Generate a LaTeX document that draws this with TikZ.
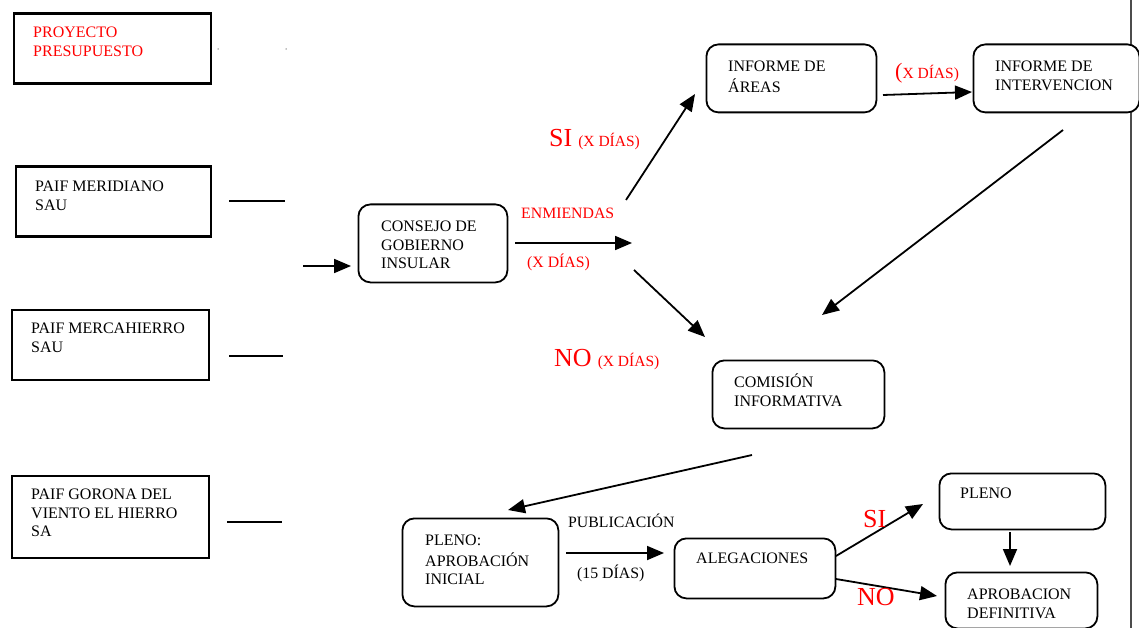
\documentclass[tikz,border=0pt]{standalone}
\usepackage{fontspec}
\setmainfont{Liberation Serif}
\usetikzlibrary{arrows.meta}
\definecolor{lblred}{RGB}{255,0,0}
\tikzset{
  sqbox/.style={draw=black, line width=2.2pt, fill=white},
  rbox/.style={draw=black, line width=1.8pt, rounded corners=12pt, fill=white},
  txt/.style={anchor=north west, inner sep=0pt, align=left, font=\fontsize{16}{18.6}\selectfont},
  lbl/.style={anchor=west, inner sep=0pt, font=\fontsize{15.8}{18.6}\selectfont},
  red lbl/.style={lbl, text=lblred},
  arr/.style={line width=1.8pt, -{Triangle[length=17pt,width=14pt]}},
  plain/.style={line width=1.6pt},
}
\newcommand{\bigf}{\fontsize{26}{30}\selectfont}
\newcommand{\smallf}{\fontsize{15.5}{17}\selectfont}
\begin{document}
\begin{tikzpicture}[x=1pt,y=-1pt]
\useasboundingbox (0,0) rectangle (1139,628);
% right margin line
\coordinate (vt) at (1131,0);
\coordinate (vb) at (1131,628);
\draw[line width=1.2pt, black!70] (vt) -- (vb);
% tiny dots
\node[circle, fill=black!50, inner sep=0pt, minimum size=1.5pt] (dotA) at (218,49) {};
\node[circle, fill=black!50, inner sep=0pt, minimum size=1.5pt] (dotB) at (286,49) {};

% left boxes
\node[sqbox, anchor=north west, minimum width=197pt, minimum height=70pt] (proy) at (12.5,12.5) {};
\node[txt, text=lblred] (proyT) at (33,24.5) {\strut PROYECTO\\PRESUPUESTO};
\node[sqbox, anchor=north west, minimum width=195pt, minimum height=70pt] (mer) at (14.5,165.5) {};
\node[txt] (merT) at (35,178.5) {\strut PAIF MERIDIANO\\SAU};
\node[sqbox, anchor=north west, minimum width=197pt, minimum height=70pt] (merc) at (10.5,308.5) {};
\node[txt] (mercT) at (31,320.5) {\strut PAIF MERCAHIERRO\\SAU};
\node[sqbox, anchor=north west, minimum width=197pt, minimum height=82pt] (gor) at (10.5,474.5) {};
\node[txt] (gorT) at (31,486.5) {\strut PAIF GORONA DEL\\VIENTO EL HIERRO\\SA};

% rounded boxes
\node[rbox, anchor=north west, minimum width=149pt, minimum height=78pt] (consejo) at (357.5,203.5) {};
\node[txt] (consejoT) at (381,218.5) {\strut CONSEJO DE\\GOBIERNO\\INSULAR};
\node[rbox, anchor=north west, minimum width=170pt, minimum height=68pt] (areas) at (705.5,43.5) {};
\node[txt] (areasT) at (728,58.5) {\strut INFORME DE\\ÁREAS};
\node[rbox, anchor=north west, minimum width=166pt, minimum height=68pt] (interv) at (972.5,43.5) {};
\node[txt] (intervT) at (995,58.5) {\strut INFORME DE\\INTERVENCION};
\node[rbox, anchor=north west, minimum width=172pt, minimum height=68pt] (comision) at (711.5,359.5) {};
\node[txt] (comisionT) at (734,373.5) {\strut COMISIÓN\\INFORMATIVA};
\node[rbox, anchor=north west, minimum width=156pt, minimum height=88pt] (plenoini) at (401.5,517.5) {};
\node[txt] (plenoiniT) at (425,532.5) {\strut PLENO:\\APROBACIÓN\\INICIAL};
\node[rbox, anchor=north west, minimum width=161pt, minimum height=60pt] (aleg) at (673.5,537.5) {};
\node[txt] (alegT) at (696,550.5) {\strut ALEGACIONES};
\node[rbox, anchor=north west, minimum width=166pt, minimum height=56pt] (pleno) at (938.5,472.5) {};
\node[txt] (plenoT) at (960,485.5) {\strut PLENO};
\node[rbox, anchor=north west, minimum width=152pt, minimum height=56pt] (aprob) at (944.5,571.5) {};
\node[txt] (aprobT) at (967,586.5) {\strut APROBACION\\DEFINITIVA};

% plain stubs
\coordinate (s1a) at (229,201); \coordinate (s1b) at (285,201);
\coordinate (s2a) at (229,356); \coordinate (s2b) at (283,356);
\coordinate (s3a) at (227,522); \coordinate (s3b) at (282,522);
\draw[plain] (s1a) -- (s1b);
\draw[plain] (s2a) -- (s2b);
\draw[plain] (s3a) -- (s3b);

% arrows
\coordinate (a1s) at (303,266); \coordinate (a1e) at (351,266);
\coordinate (a2s) at (515,243); \coordinate (a2e) at (632,243);
\coordinate (a3s) at (626,200); \coordinate (a3e) at (695,94);
\coordinate (a4s) at (634,270); \coordinate (a4e) at (705,337);
\coordinate (a5s) at (883,95);  \coordinate (a5e) at (972,92);
\coordinate (a6s) at (1063,130); \coordinate (a6e) at (822,315);
\coordinate (a7s) at (752,455); \coordinate (a7e) at (508,510);
\coordinate (a8s) at (566,553); \coordinate (a8e) at (664,553);
\coordinate (a9s) at (836,556); \coordinate (a9e) at (923,504);
\coordinate (a10s) at (836,579); \coordinate (a10e) at (937,596);
\coordinate (a11s) at (1010,532); \coordinate (a11e) at (1010,566);
\foreach \i in {1,...,11} \draw[arr] (a\i s) -- (a\i e);

% labels
\node[red lbl] (enm) at (521,213) {ENMIENDAS};
\node[red lbl] (xd1) at (527,262) {(X DÍAS)};
\node[red lbl] (si1) at (549,140) {{\bigf SI}\hspace{6pt}{\smallf (X DÍAS)}};
\node[red lbl] (no1) at (554,360) {{\bigf NO}\hspace{6pt}{\smallf (X DÍAS)}};
\node[red lbl] (xd2) at (895,73) {{\fontsize{22}{24}\selectfont (}{\smallf X DÍAS)}};
\node[lbl] (pub) at (568,521) {PUBLICACIÓN};
\node[lbl] (d15) at (577,573) {(15 DÍAS)};
\node[red lbl, font=\bigf] (si2) at (863,519) {SI};
\node[red lbl, font=\bigf] (no2) at (857,597) {NO};
\end{tikzpicture}
\end{document}
